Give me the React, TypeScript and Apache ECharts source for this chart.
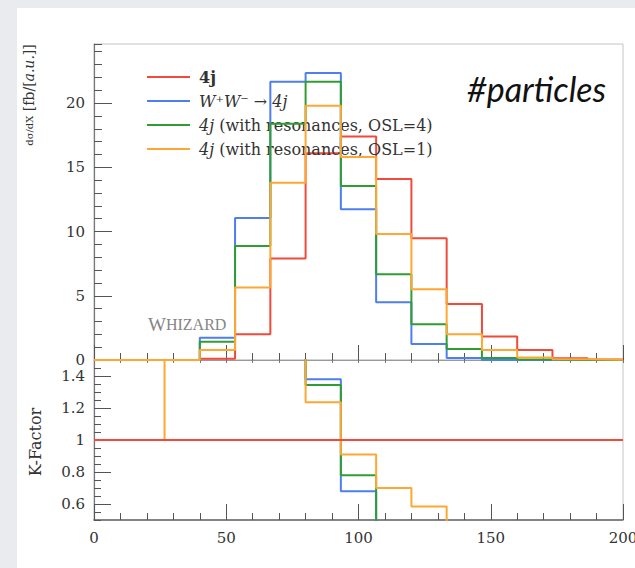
import React, { useEffect, useRef } from "react";
import * as echarts from "echarts";

// ---- data ----
const binEdges = [0, 13.33, 26.67, 40, 53.33, 66.67, 80, 93.33, 106.67, 120, 133.33, 146.67, 160, 173.33, 186.67, 200];
const mainYTicks = [0, 5, 10, 15, 20];
const ratioYTicks = [0.6, 0.8, 1, 1.2, 1.4];

const seriesNames = ["4j", "W⁺W⁻ → 4j", "4j (with resonances, OSL=4)", "4j (with resonances, OSL=1)"];
const seriesColors = ["#f04a3a", "#4f7ef0", "#2f9e32", "#ffa733"];

const xs4j = [0, 0, 0, 0.1, 2.0, 7.9, 16.1, 17.4, 14.1, 9.47, 4.36, 1.82, 0.78, 0.13, 0.03];
const xsWW = [0, 0, 0, 1.74, 11.05, 21.66, 22.35, 11.73, 4.49, 1.25, 0.16, 0, 0, 0, 0];
const xsOSL4 = [0, 0, 0.02, 1.43, 8.87, 18.4, 21.66, 13.54, 6.67, 2.78, 0.86, 0.16, 0.04, 0, 0];
const xsOSL1 = [0, 0, 0, 0.78, 5.65, 13.8, 19.8, 15.8, 9.8, 5.5, 2.0, 0.78, 0.2, 0.05, 0.02];

const k4j = [1, 1, 1, 1, 1, 1, 1, 1, 1, 1, 1, 1, 1, 1, 1];
const kWW = [null, null, null, 17, 5.5, 2.74, 1.38, 0.68, 0.32, 0.13, 0.04, 0, 0, 0, 0];
const kOSL4 = [null, null, null, 14, 4.4, 2.33, 1.344, 0.78, 0.47, 0.29, 0.2, 0.09, 0.05, 0, 0];
const kOSL1 = [1, 1, 3, 7.8, 2.8, 1.75, 1.236, 0.91, 0.7, 0.585, 0.46, 0.43, 0.26, 0.38, 0.3];

const FONT = "DejaVu Serif";

function stepData(vals: (number | null)[]) {
  const pts: number[][] = [];
  vals.forEach((v, i) => {
    if (v == null) return;
    pts.push([binEdges[i], v], [binEdges[i + 1], v]);
  });
  return pts;
}

export default function App() {
  const ref = useRef<HTMLDivElement>(null);
  useEffect(() => {
    if (!ref.current) return;
    const chart = echarts.init(ref.current, null, { renderer: "svg" });
    const mainVals = [xs4j, xsWW, xsOSL4, xsOSL1];
    const kVals = [k4j, kWW, kOSL4, kOSL1];
    const mainSeries = mainVals.map((vals, i) => ({
      name: seriesNames[i],
      type: "line",
      xAxisIndex: 0,
      yAxisIndex: 0,
      data: stepData(vals),
      symbol: "none",
      showSymbol: false,
      lineStyle: { color: seriesColors[i], width: 2 },
      itemStyle: { color: seriesColors[i] },
      z: 3 + i,
    }));
    const ratioOrder = [1, 2, 3, 0];
    const ratioSeries = ratioOrder.map((i, j) => ({
      name: "K " + seriesNames[i],
      type: "line",
      xAxisIndex: 1,
      yAxisIndex: 2,
      data: stepData(kVals[i]),
      symbol: "none",
      showSymbol: false,
      clip: true,
      lineStyle: { color: seriesColors[i], width: 2 },
      itemStyle: { color: seriesColors[i] },
      z: 3 + j,
    }));
    const tickColor = "#555";
    const option: any = {
      animation: false,
      textStyle: { fontFamily: FONT },
      grid: [
        { left: 94, top: 44, width: 529, height: 316, show: true, borderColor: "#c4c4c4", borderWidth: 1, outerBoundsMode: "none", containLabel: false },
        { left: 94, top: 360, width: 529, height: 160, show: true, borderColor: "#c4c4c4", borderWidth: 1, outerBoundsMode: "none", containLabel: false },
      ],
      legend: {
        data: seriesNames,
        orient: "vertical",
        left: 142,
        top: 64,
        icon: "rect",
        itemWidth: 43,
        itemHeight: 2,
        itemGap: 8,
        textStyle: {
          fontFamily: FONT,
          fontSize: 16,
          color: "#333",
          lineHeight: 15,
          padding: [0, 0, 0, 4],
          rich: {
            b: { fontFamily: FONT, fontSize: 16, fontWeight: "bold", color: "#333", lineHeight: 15 },
            i: { fontFamily: FONT, fontSize: 16, fontStyle: "italic", color: "#333", lineHeight: 15 },
          },
        },
        formatter: (name: string) => {
          if (name === "4j") return "{b|4j}";
          if (name.startsWith("W")) return "{i|" + name + "}";
          return "{i|4j}" + name.slice(2);
        },
      },
      xAxis: [
        {
          gridIndex: 0, type: "value", min: 0, max: 200, interval: 50, position: "bottom",
          axisLine: { show: true, lineStyle: { color: "#999", width: 1 } },
          axisTick: { show: true, inside: true, length: 15, lineStyle: { color: tickColor } },
          minorTick: { show: true, splitNumber: 5, length: 7, lineStyle: { color: tickColor } },
          axisLabel: { show: false },
          splitLine: { show: false },
        },
        {
          gridIndex: 1, type: "value", min: 0, max: 200, interval: 50, position: "bottom",
          axisLine: { show: true, lineStyle: { color: "#666", width: 1.5 } },
          axisTick: { show: true, inside: true, length: 16, lineStyle: { color: tickColor } },
          minorTick: { show: true, splitNumber: 5, length: 7, lineStyle: { color: tickColor } },
          axisLabel: { show: true, margin: 10, fontSize: 15, color: "#333", fontFamily: FONT, hideOverlap: false },
          splitLine: { show: false },
        },
        {
          gridIndex: 1, type: "value", min: 0, max: 200, interval: 10, position: "top",
          axisLine: { show: false },
          axisTick: { show: true, inside: true, length: 3, lineStyle: { color: "#777" } },
          axisLabel: { show: false },
          splitLine: { show: false },
        },
      ],
      yAxis: [
        {
          gridIndex: 0, type: "value", min: 0, max: 24.6, position: "left",
          axisLine: { show: true, lineStyle: { color: "#777", width: 1.2 } },
          axisTick: { show: true, inside: true, length: 18, customValues: mainYTicks, lineStyle: { color: tickColor } },
          axisLabel: { show: true, customValues: mainYTicks, fontSize: 15, margin: 9, color: "#333", fontFamily: FONT },
          splitLine: { show: false },
        },
        {
          gridIndex: 0, type: "value", min: 0, max: 24.6, interval: 1, position: "left",
          axisLine: { show: false },
          axisTick: { show: true, inside: true, length: 8, lineStyle: { color: tickColor } },
          axisLabel: { show: false },
          splitLine: { show: false },
        },
        {
          gridIndex: 1, type: "value", min: 0.5, max: 1.5, position: "left",
          axisLine: { show: true, lineStyle: { color: "#777", width: 1.2 } },
          axisTick: { show: true, inside: true, length: 17, customValues: ratioYTicks, lineStyle: { color: tickColor } },
          axisLabel: { show: true, customValues: ratioYTicks, fontSize: 15, margin: 9, color: "#333", fontFamily: FONT },
          splitLine: { show: false },
        },
        {
          gridIndex: 1, type: "value", min: 0.5, max: 1.5, interval: 0.05, position: "left",
          axisLine: { show: false },
          axisTick: { show: true, inside: true, length: 7, lineStyle: { color: tickColor } },
          axisLabel: { show: false },
          splitLine: { show: false },
        },
      ],
      graphic: [
        {
          type: "text", x: 29, y: 95, rotation: Math.PI / 2,
          style: {
            text: "{f|dσ/dX} [fb/[{i|a.u.}]]",
            fontFamily: FONT, fontSize: 14, fill: "#333",
            align: "center", verticalAlign: "middle",
            rich: {
              f: { fontFamily: FONT, fontSize: 10, fill: "#333" },
              i: { fontFamily: FONT, fontSize: 14, fontStyle: "italic", fill: "#333" },
            },
          },
        },
        {
          type: "text", x: 35, y: 442, rotation: Math.PI / 2,
          style: { text: "K-Factor", fontFamily: FONT, fontSize: 16, fill: "#333", align: "center", verticalAlign: "middle" },
        },
        {
          type: "text", x: 148, y: 324,
          style: {
            text: "{a|W}{b|HIZARD}",
            verticalAlign: "middle",
            rich: {
              a: { fontFamily: "Liberation Serif", fontSize: 19, fill: "#858585" },
              b: { fontFamily: "Liberation Serif", fontSize: 16, fill: "#858585" },
            },
          },
        },
        {
          type: "text", x: 467, y: 88,
          style: { text: "#particles", fontFamily: "Lato", fontStyle: "italic", fontSize: 34, fill: "#111", verticalAlign: "middle" },
        },
      ],
      series: [...mainSeries, ...ratioSeries],
    };
    chart.setOption(option);
    return () => chart.dispose();
  }, []);
  return (
    <div style={{ position: "fixed", left: 0, top: 0, width: 635, height: 568, background: "#e9ebef", overflow: "hidden" }}>
      <div style={{ position: "absolute", left: 17, top: 8, right: 0, bottom: 0, background: "#ffffff" }} />
      <div ref={ref} style={{ position: "absolute", left: 0, top: 0, width: 635, height: 568 }} />
    </div>
  );
}
